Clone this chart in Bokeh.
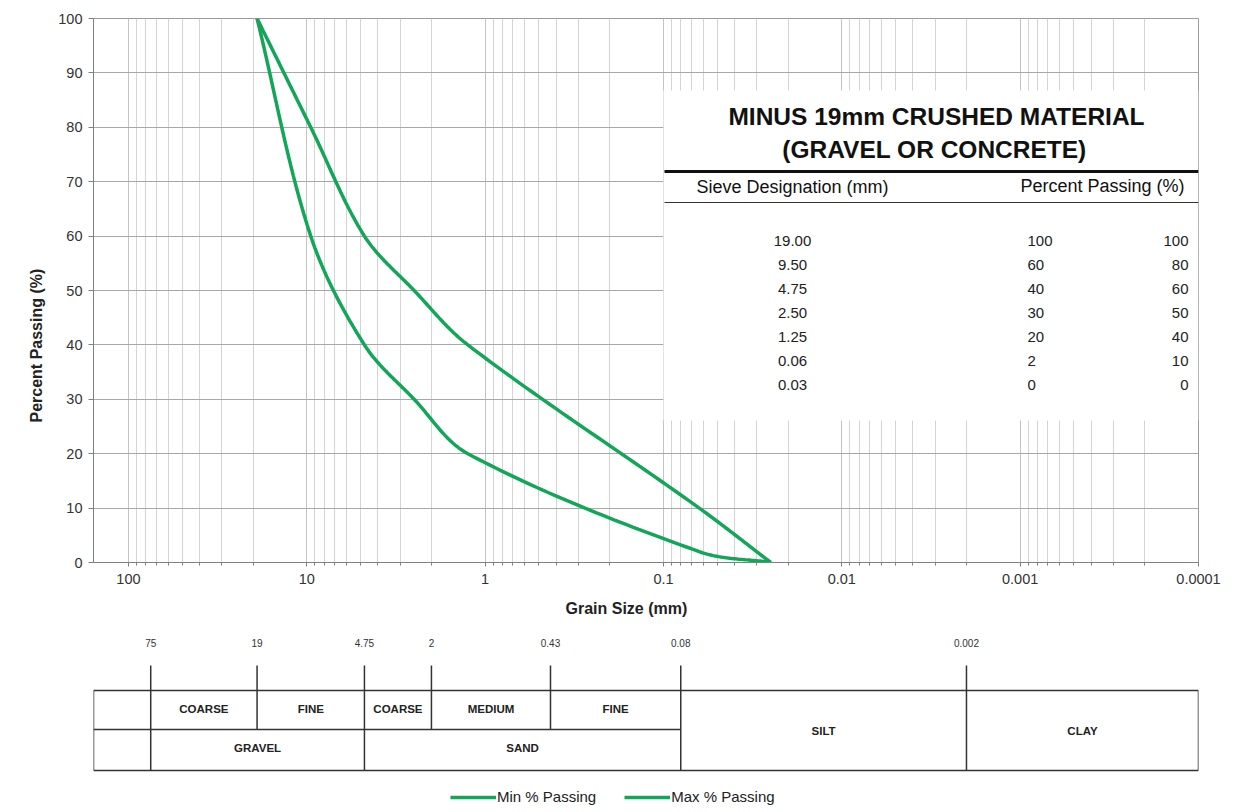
import numpy as np
from bokeh.plotting import figure
from bokeh.models import (Range1d, LinearScale, FixedTicker, CustomJSTickFormatter,
                          Legend, LegendItem, Title)
from bokeh.layouts import column
from bokeh.embed import file_html
from bokeh.resources import INLINE
from bokeh.core.properties import value

# ---------------- data ----------------
sieve_mm = [19.00, 9.50, 4.75, 2.50, 1.25, 0.063, 0.025]
min_passing = [100, 60, 40, 30, 20, 2, 0]
max_passing = [100, 80, 60, 50, 40, 10, 0]

x_tick_values = [100, 10, 1, 0.1, 0.01, 0.001, 0.0001]
y_tick_values = [0, 10, 20, 30, 40, 50, 60, 70, 80, 90, 100]

x_title = "Grain Size (mm)"
y_title = "Percent  Passing (%)"
table_title = ["MINUS 19mm CRUSHED MATERIAL", "(GRAVEL OR CONCRETE)"]
table_headers = ["Sieve Designation (mm)", "Percent Passing (%)"]

class_bounds = [75, 19, 4.75, 2, 0.43, 0.08, 0.002]
class_bound_labels = ["75", "19", "4.75", "2", "0.43", "0.08", "0.002"]
class_bound_full = [True, False, True, False, False, True, True]
sub_class_names = ["COARSE", "FINE", "COARSE", "MEDIUM", "FINE"]   # between bounds 75 ... 0.08
main_class_names = ["GRAVEL", "SAND"]
main_class_edges = [75, 4.75, 0.08]
fine_class_names = ["SILT", "CLAY"]

legend_labels = ["Min % Passing", "Max % Passing"]

# ---------------- style ----------------
GREEN = "#13a558"
FONT = "Liberation Sans"
X_LEFT, X_RIGHT = 157.0, 0.0001
W = 1241
FRAME_W = 1105
FRAME_H = 544
BL, BR = 93, W - 93 - FRAME_W
BT = 18
H1 = 634
H2 = 808 - H1


def smooth(xs, ys, n=40, tension=1.0 / 3.0):
    """Excel-like smoothed line: Bezier segments with distance-scaled tangents,
    computed in screen space (log x, y)."""
    sx = FRAME_W / (np.log10(X_LEFT) - np.log10(X_RIGHT))
    sy = FRAME_H / 100.0
    P = np.column_stack([np.log10(xs) * sx, np.asarray(ys, float) * sy])
    m = len(P)
    cout = np.zeros_like(P)
    cin = np.zeros_like(P)
    for i in range(m):
        prev = P[max(i - 1, 0)]
        nxt = P[min(i + 1, m - 1)]
        T = nxt - prev
        d0 = np.linalg.norm(P[i] - prev)
        d1 = np.linalg.norm(nxt - P[i])
        tot = d0 + d1 if d0 + d1 > 0 else 1.0
        cout[i] = P[i] + T * (d1 / tot) * tension
        cin[i] = P[i] - T * (d0 / tot) * tension
    t = np.linspace(0, 1, n)[:, None]
    out = []
    for i in range(m - 1):
        p1, p2, c1, c2 = P[i], P[i + 1], cout[i], cin[i + 1]
        seg = (1 - t) ** 3 * p1 + 3 * (1 - t) ** 2 * t * c1 + 3 * (1 - t) * t ** 2 * c2 + t ** 3 * p2
        out.append(seg if i == 0 else seg[1:])
    out = np.vstack(out)
    return 10 ** (out[:, 0] / sx), out[:, 1] / sy


# ---------------- main chart ----------------
p = figure(width=W, height=H1, x_axis_type="log",
           x_range=Range1d(X_LEFT, X_RIGHT), y_range=Range1d(0, 100),
           output_backend="svg", toolbar_location=None,
           min_border_left=BL, min_border_right=BR, min_border_top=BT,
           min_border_bottom=H1 - BT - FRAME_H)
p.background_fill_color = "white"
p.outline_line_color = "#9a9a9a"

# pixel-like coordinate system relative to the plot frame (for the inset table)
p.extra_x_ranges = {"px": Range1d(0, FRAME_W)}
p.extra_y_ranges = {"px": Range1d(FRAME_H, 0)}
p.extra_x_scales = {"px": LinearScale()}
p.extra_y_scales = {"px": LinearScale()}

minor = [k * 10.0 ** e for e in range(-4, 3) for k in range(2, 10) if k * 10.0 ** e < X_LEFT]
p.xaxis.ticker = FixedTicker(ticks=x_tick_values, minor_ticks=minor)
p.xaxis.formatter = CustomJSTickFormatter(code="return String(tick)")
p.yaxis.ticker = FixedTicker(ticks=y_tick_values)

for ax in (p.xaxis, p.yaxis):
    ax.axis_line_color = "#808080"
    ax.major_tick_line_color = "#808080"
    ax.minor_tick_line_color = "#808080"
    ax.major_tick_in = 0
    ax.minor_tick_in = 0
    ax.major_label_text_font = FONT
    ax.major_label_text_font_size = "14.5px"
    ax.major_label_text_color = "#333333"
p.xaxis.major_tick_out = 4
p.xaxis.minor_tick_out = 3
p.yaxis.major_tick_out = 5
p.yaxis.minor_tick_out = 0
p.xaxis.major_label_standoff = 7
p.yaxis.major_label_standoff = 6

p.xgrid.grid_line_color = "#c4c4c4"
p.xgrid.minor_grid_line_color = "#d4d4d4"
p.ygrid.grid_line_color = "#a8a8a8"

# axis titles as side titles (they sit off-centre in the original)
p.add_layout(Title(text=x_title, align="left", offset=472, standoff=22,
                   text_font=FONT, text_font_size="16px", text_font_style="bold",
                   text_color="#222222"), "below")
p.add_layout(Title(text=y_title, align="left", offset=140, standoff=21,
                   text_font=FONT, text_font_size="16px", text_font_style="bold",
                   text_color="#222222"), "left")

xs_min, ys_min = smooth(sieve_mm, min_passing)
xs_max, ys_max = smooth(sieve_mm, max_passing)
p.line(xs_min, ys_min, line_color=GREEN, line_width=3.5)
p.line(xs_max, ys_max, line_color=GREEN, line_width=3.5)

# ---- inset table (pixel coordinates relative to the plot frame) ----
TL, TR, TT, TB = 570, FRAME_W, 72, 402
p.quad(left=[TL], right=[TR], top=[TT], bottom=[TB], fill_color="white", line_color=None,
       x_range_name="px", y_range_name="px")
p.text(x=[843, 841], y=[98, 131], text=table_title, text_align="center", text_baseline="middle",
       text_font=value(FONT), text_font_style="bold", text_font_size="24.5px", text_color="#111111",
       x_range_name="px", y_range_name="px")
p.segment(x0=[TL + 1], y0=[153], x1=[TR], y1=[153], line_color="#111111", line_width=3,
          x_range_name="px", y_range_name="px")
p.segment(x0=[TL + 1], y0=[184], x1=[TR], y1=[184], line_color="#333333", line_width=1,
          x_range_name="px", y_range_name="px")
p.text(x=[699, 1009], y=[168, 167], text=table_headers, text_align="center", text_baseline="middle",
       text_font=value(FONT), text_font_size="18px", text_color="#111111",
       x_range_name="px", y_range_name="px")
row_y = [222 + 24 * i for i in range(len(sieve_mm))]
p.text(x=[699] * len(sieve_mm), y=row_y, text=[f"{v:.2f}" for v in sieve_mm],
       text_align="center", text_baseline="middle", text_font=value(FONT), text_font_size="15px",
       text_color="#222222", x_range_name="px", y_range_name="px")
p.text(x=[934] * len(sieve_mm), y=row_y, text=[str(v) for v in min_passing],
       text_align="left", text_baseline="middle", text_font=value(FONT), text_font_size="15px",
       text_color="#222222", x_range_name="px", y_range_name="px")
p.text(x=[1095] * len(sieve_mm), y=row_y, text=[str(v) for v in max_passing],
       text_align="right", text_baseline="middle", text_font=value(FONT), text_font_size="15px",
       text_color="#222222", x_range_name="px", y_range_name="px")

# ---------------- soil classification strip ----------------
q = figure(width=W, height=H2, x_axis_type="log", x_range=p.x_range, y_range=Range1d(H2, 0),
           output_backend="svg", toolbar_location=None,
           x_axis_location=None, y_axis_location=None,
           min_border_left=BL, min_border_right=BR, min_border_top=0, min_border_bottom=0)
q.grid.visible = False
q.outline_line_color = None

# vertical placement (page pixels -> strip coordinates)
Y_NUM, Y_TICK, Y_TOP, Y_MID, Y_BOT = (v - H1 for v in (642, 665, 690, 729, 770))
LINE = "#333333"
# outer box
q.segment(x0=[X_LEFT, X_LEFT, X_LEFT, X_RIGHT], y0=[Y_TOP, Y_BOT, Y_TOP, Y_TOP],
          x1=[X_RIGHT, X_RIGHT, X_LEFT, X_RIGHT], y1=[Y_TOP, Y_BOT, Y_BOT, Y_BOT],
          line_color=LINE, line_width=1.5)
# middle divider (gravel/sand rows)
q.segment(x0=[X_LEFT], y0=[Y_MID], x1=[class_bounds[5]], y1=[Y_MID], line_color=LINE, line_width=1.5)
# boundary lines
q.segment(x0=class_bounds, y0=[Y_TICK] * len(class_bounds), x1=class_bounds,
          y1=[Y_BOT if f else Y_MID for f in class_bound_full], line_color=LINE, line_width=1.5)
q.text(x=class_bounds, y=[Y_NUM] * len(class_bounds), text=class_bound_labels,
       text_align="center", text_baseline="middle", text_font=value(FONT), text_font_size="10px",
       text_color="#333333")


def gmid(a, b):
    return 10 ** ((np.log10(a) + np.log10(b)) / 2)


sub_x = [gmid(class_bounds[i], class_bounds[i + 1]) for i in range(len(sub_class_names))]
q.text(x=sub_x, y=[(Y_TOP + Y_MID) / 2 - 1] * len(sub_x), text=sub_class_names,
       text_align="center", text_baseline="middle", text_font=value(FONT), text_font_size="11.5px",
       text_font_style="bold", text_color="#222222")
main_x = [gmid(main_class_edges[i], main_class_edges[i + 1]) for i in range(len(main_class_names))]
q.text(x=main_x, y=[(Y_MID + Y_BOT) / 2 - 2] * len(main_x), text=main_class_names,
       text_align="center", text_baseline="middle", text_font=value(FONT), text_font_size="11.5px",
       text_font_style="bold", text_color="#222222")
fine_x = [gmid(class_bounds[5], class_bounds[6]), gmid(class_bounds[6], X_RIGHT)]
q.text(x=fine_x, y=[(Y_TOP + Y_BOT) / 2] * 2, text=fine_class_names,
       text_align="center", text_baseline="middle", text_font=value(FONT), text_font_size="11.5px",
       text_font_style="bold", text_color="#222222")

# legend (proxy renderers with no visible points)
r1 = q.line(x=[np.nan], y=[np.nan], line_color=GREEN, line_width=3.5)
r2 = q.line(x=[np.nan], y=[np.nan], line_color=GREEN, line_width=3.5)
legend = Legend(items=[LegendItem(label=legend_labels[0], renderers=[r1]),
                       LegendItem(label=legend_labels[1], renderers=[r2])],
                orientation="horizontal", location=(357, 3),
                glyph_width=46, glyph_height=16, label_height=16, label_standoff=1,
                spacing=28, padding=0, margin=0, border_line_color=None,
                background_fill_alpha=0, label_text_font=FONT, label_text_font_size="15px",
                label_text_color="#222222")
q.add_layout(legend)

layout = column(p, q, spacing=0)
open("out.html", "w").write(file_html(layout, INLINE))
